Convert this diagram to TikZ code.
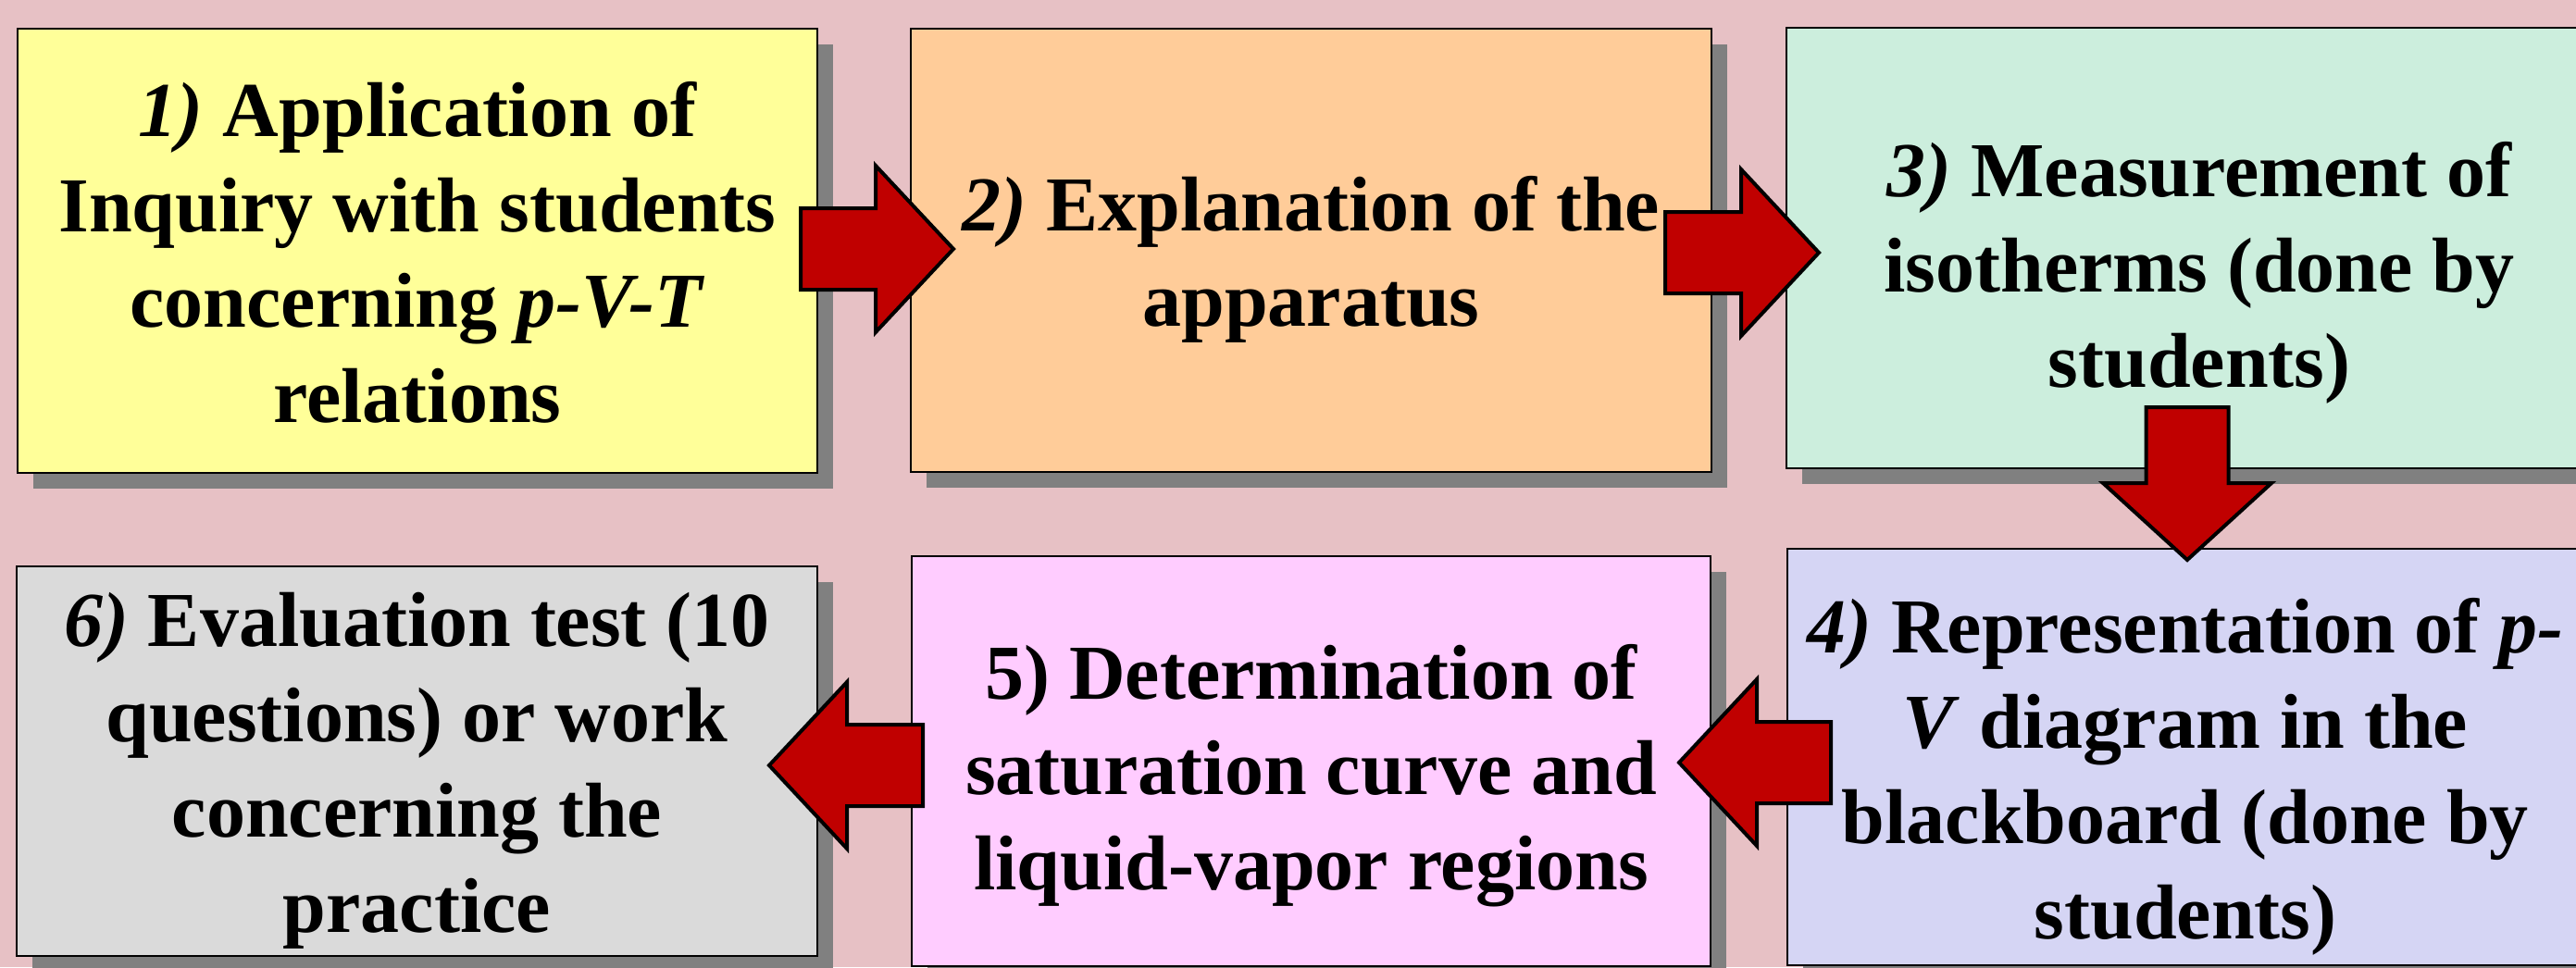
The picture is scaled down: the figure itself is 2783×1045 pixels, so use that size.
\documentclass[tikz,border=0pt]{standalone}
\usepackage{fontspec}
\setmainfont{Liberation Serif}
\usetikzlibrary{calc,shadows}
\definecolor{bgpink}{RGB}{231,193,197}
\definecolor{cone}{HTML}{FFFF99}
\definecolor{ctwo}{HTML}{FFCC99}
\definecolor{cthree}{HTML}{CCEEDD}
\definecolor{cfour}{HTML}{D5D5F4}
\definecolor{cfive}{HTML}{FFCCFF}
\definecolor{csix}{HTML}{DADADA}
\definecolor{arrred}{HTML}{C00000}
\definecolor{shadowgray}{HTML}{808080}
\newcommand\rblock[2]{\draw[arr] let \p1=(#1), \p2=(#2) in
  (\x1,\y1+44pt) -- (\x2-84pt,\y1+44pt) -- (\x2-84pt,\y1+90pt) -- (\x2,\y1)
  -- (\x2-84pt,\y1-90pt) -- (\x2-84pt,\y1-44pt) -- (\x1,\y1-44pt) -- cycle;}
\newcommand\lblock[2]{\draw[arr] let \p1=(#1), \p2=(#2) in
  (\x1,\y1+44pt) -- (\x2+84pt,\y1+44pt) -- (\x2+84pt,\y1+90pt) -- (\x2,\y1)
  -- (\x2+84pt,\y1-90pt) -- (\x2+84pt,\y1-44pt) -- (\x1,\y1-44pt) -- cycle;}
\newcommand\dblock[2]{\draw[arr] let \p1=(#1), \p2=(#2) in
  (\x1-44.5pt,\y1) -- (\x1-44.5pt,\y2+83pt) -- (\x1-91pt,\y2+83pt) -- (\x1,\y2)
  -- (\x1+91pt,\y2+83pt) -- (\x1+44.5pt,\y2+83pt) -- (\x1+44.5pt,\y1) -- cycle;}
\begin{document}
\begin{tikzpicture}[x=1pt,y=-1pt,
  box/.style={draw=black, line width=2pt, anchor=north west, inner sep=0pt,
    drop shadow={shadow xshift=17pt, shadow yshift=-17pt, fill=shadowgray, opacity=1, draw=none}},
  txt/.style={align=center, inner sep=0pt, font=\fontsize{84}{103}\selectfont\bfseries},
  arr/.style={fill=arrred, draw=black, line width=4pt, line join=miter}]
\useasboundingbox (0,0) rectangle (2783,1045);
\fill[bgpink] (0,0) rectangle (2783,1045);
\clip (0,0) rectangle (2783,1045);
\node[box, fill=cone, minimum width=864, minimum height=480] (b1) at (18,30) {};
\node[box, fill=ctwo, minimum width=865, minimum height=479] (b2) at (983,30) {};
\node[box, fill=cthree, minimum width=892, minimum height=476] (b3) at (1929,29) {};
\node[box, fill=cfour, minimum width=860, minimum height=450] (b4) at (1930,592) {};
\node[box, fill=cfive, minimum width=863, minimum height=443] (b5) at (984,600) {};
\node[box, fill=csix, minimum width=865, minimum height=421] (b6) at (17,611) {};
\node[txt] (t1) at ($(b1.center)+(0,2)$)
  {\textit{1)} Application of\\Inquiry with students\\concerning \textit{p-V-T}\\relations};
\node[txt] (t2) at ($(b2.center)+(0,10)$)
  {\textit{2)} Explanation of the\\apparatus};
\node[txt] (t3) at ($(b3.center)+(0,27)$)
  {\textit{3)} Measurement of\\isotherms (done by\\students)};
\node[txt] (t4) at ($(b4.center)+(0,21)$)
  {\textit{4)} Representation of \textit{p-}\\\textit{V} diagram in the\\blackboard (done by\\students)};
\node[txt] (t5) at ($(b5.center)+(0,16)$)
  {5) Determination of\\saturation curve and\\liquid-vapor regions};
\node[txt] (t6) at ($(b6.center)+(0,10)$)
  {\textit{6)} Evaluation test (10\\questions) or work\\concerning the\\practice};
\coordinate (a1s) at ($(b1.east)+(-19,-2)$);
\coordinate (a1e) at ($(b2.west)+(47,0)$);
\coordinate (a2s) at ($(b2.east)+(-51,2.5)$);
\coordinate (a2e) at ($(b3.west)+(36,0)$);
\coordinate (a3s) at ($(b3.south)+(-13,-67)$);
\coordinate (a3e) at ($(b4.north)+(2,13)$);
\coordinate (a4s) at ($(b4.west)+(48,6)$);
\coordinate (a4e) at ($(b5.east)+(-35,0)$);
\coordinate (a5s) at ($(b5.west)+(13,4.5)$);
\coordinate (a5e) at ($(b6.east)+(-53,0)$);
\rblock{a1s}{a1e}
\rblock{a2s}{a2e}
\dblock{a3s}{a3e}
\lblock{a4s}{a4e}
\lblock{a5s}{a5e}
\end{tikzpicture}
\end{document}
